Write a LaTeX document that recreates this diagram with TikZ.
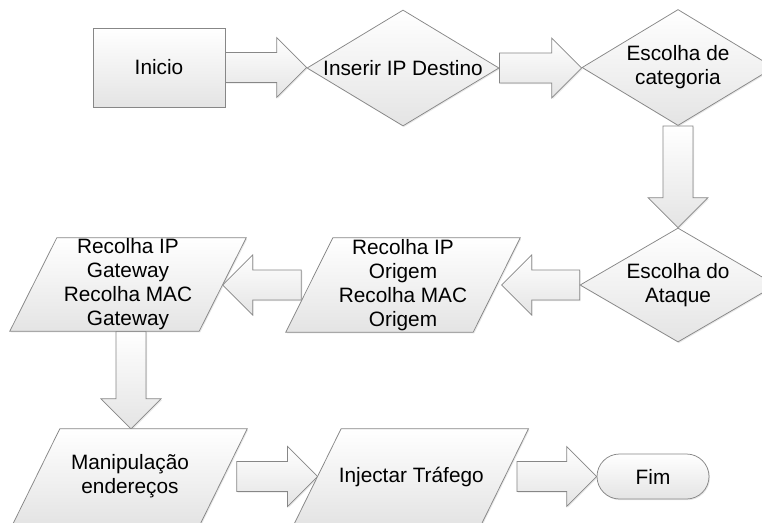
\documentclass[tikz,border=0pt]{standalone}
\usepackage{fontspec}
\setmainfont{Liberation Sans}
\usetikzlibrary{shapes.geometric,calc,shadows}

\definecolor{linegray}{RGB}{135,135,135}
\definecolor{shadebottom}{RGB}{228,228,228}

\pgfdeclarelayer{bglayer}
\pgfdeclarelayer{arrowlayer}
\pgfdeclarelayer{shapelayer}
\pgfsetlayers{bglayer,arrowlayer,shapelayer,main}

\tikzset{
  every node/.style={font=\fontsize{20.8}{24}\selectfont, text=black,
    align=center, inner sep=0pt},
  boxfill/.style={draw=linegray, line width=0.75pt, top color=white,
    bottom color=shadebottom,
    drop shadow={shadow xshift=1pt, shadow yshift=-1.2pt, opacity=0.18}},
  processbox/.style={rectangle, boxfill},
  decision/.style={diamond, boxfill, aspect=1.66},
  terminal/.style={rectangle, rounded corners=22.5pt, boxfill},
  slanttext/.style={rectangle, minimum width=187pt, minimum height=93pt},
  arrowfill/.style={boxfill},
}

% horizontal block arrow from #1 to #2 (tip at #2)
\newcommand\hblock[2]{%
  \begin{pgfonlayer}{arrowlayer}
  \path[arrowfill] let \p1=(#1), \p2=(#2), \n1={sign(\x2-\x1)} in
    (\x1,\y1+15pt) -- (\x2-\n1*30pt,\y1+15pt) -- (\x2-\n1*30pt,\y1+30pt)
    -- (\x2,\y1) -- (\x2-\n1*30pt,\y1-30pt) -- (\x2-\n1*30pt,\y1-15pt)
    -- (\x1,\y1-15pt) -- cycle;
  \end{pgfonlayer}}

% vertical block arrow from #1 to #2 (tip at #2)
\newcommand\vblock[2]{%
  \begin{pgfonlayer}{arrowlayer}
  \path[arrowfill] let \p1=(#1), \p2=(#2), \n1={sign(\y2-\y1)} in
    (\x1-15pt,\y1) -- (\x1-15pt,\y2-\n1*30pt) -- (\x1-30pt,\y2-\n1*30pt)
    -- (\x1,\y2) -- (\x1+30pt,\y2-\n1*30pt) -- (\x1+15pt,\y2-\n1*30pt)
    -- (\x1+15pt,\y1) -- cycle;
  \end{pgfonlayer}}

% slanted (data) frame around a text node
\newcommand\slantframe[1]{%
  \begin{pgfonlayer}{shapelayer}
  \path[boxfill] ([xshift=-23.5pt]#1.south west) -- ([xshift=-23.5pt]#1.south east)
    -- ([xshift=23.5pt]#1.north east) -- ([xshift=23.5pt]#1.north west) -- cycle;
  \end{pgfonlayer}}

\begin{document}
\begin{tikzpicture}[x=1pt, y=-1pt]
\useasboundingbox (0,0) rectangle (762,522);
\begin{pgfonlayer}{bglayer}
  \fill[white] (0,0) rectangle (762,522);
\end{pgfonlayer}

% top row
\node[processbox, minimum width=132pt, minimum height=79pt] (inicio) at (159,67.5) {Inicio};
\node[decision, minimum width=192pt, minimum height=116pt] (inserir) at (403,68) {Inserir IP Destino};
\node[decision, minimum width=192pt, minimum height=116pt] (categoria) at (678,67.5) {Escolha de\\categoria};

% middle row
\node[decision, minimum width=196pt, minimum height=114pt] (ataque) at (678,285) {Escolha do\\Ataque};
\node[slanttext, minimum height=94pt] (origem) at (403,285) {Recolha IP\\Origem\\Recolha MAC\\Origem};
\node[slanttext, minimum width=189pt] (gateway) at (128,284.5) {Recolha IP\\Gateway\\Recolha MAC\\Gateway};
\slantframe{origem}
\slantframe{gateway}

% bottom row
\node[slanttext, minimum height=95pt] (manip) at (130,476.5) {Manipulação\\endereços};
\node[slanttext, minimum height=95pt] (injectar) at (411.25,476.5) {Injectar Tráfego};
\node[terminal, minimum width=112pt, minimum height=45pt] (fim) at (653,476.5) {Fim};
\slantframe{manip}
\slantframe{injectar}

% flow
\hblock{inicio.east}{inserir.west}
\hblock{inserir.east}{categoria.west}
\vblock{categoria.south}{ataque.north}
\hblock{ataque.west}{[xshift=5pt]origem.east}
\hblock{[xshift=-8pt]origem.west}{gateway.east}
\vblock{[xshift=3pt]gateway.south}{manip.north}
\hblock{[xshift=13pt]manip.east}{injectar.west}
\hblock{[xshift=12pt]injectar.east}{fim.west}
\end{tikzpicture}
\end{document}
